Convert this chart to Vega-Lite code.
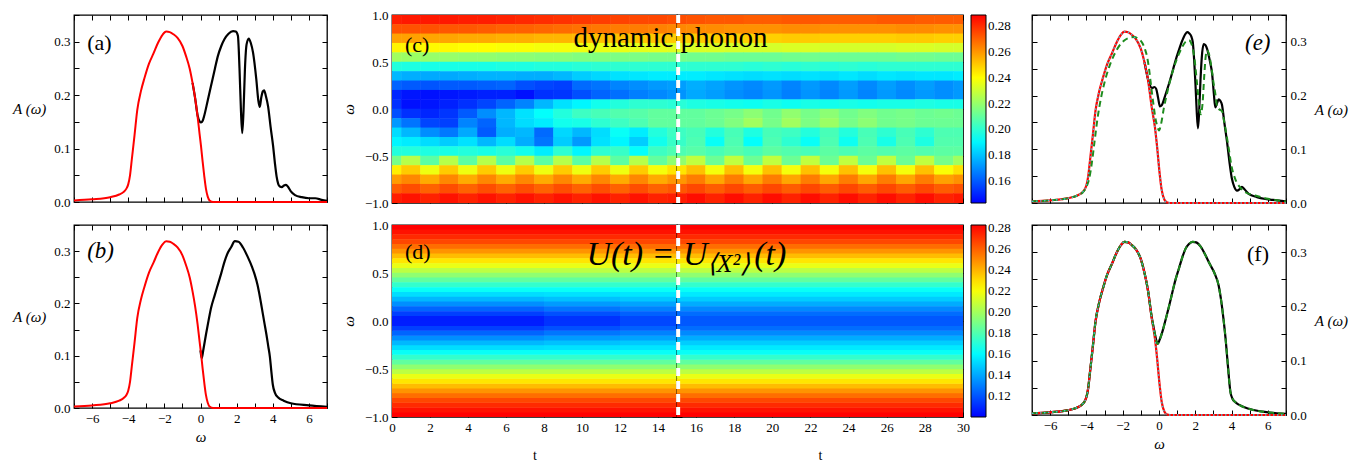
{
"$schema": "https://vega.github.io/schema/vega-lite/v6.json",
"autosize": {"type": "none"},
"padding": {"left": 74, "top": 15, "right": 1291, "bottom": 449},
"config": {
  "view": {"stroke": "black", "strokeWidth": 1.3},
  "font": "Liberation Serif",
  "axis": {"domain": false, "grid": false, "tickColor": "black", "tickSize": 5, "tickWidth": 1, "labelFont": "Liberation Serif", "labelFontSize": 13, "labelColor": "black", "labelPadding": 4, "labelOverlap": false, "labelFlush": false, "titleFont": "Liberation Serif", "titleFontWeight": "normal", "titleFontSize": 15, "titleColor": "black", "zindex": 1},
  "legend": {"labelFont": "Liberation Serif", "labelFontSize": 13, "labelColor": "black", "gradientStrokeColor": "black", "gradientStrokeWidth": 1, "labelOverlap": false, "labelOffset": 5},
  "text": {"font": "Liberation Serif", "color": "black"}
},
"datasets": {
  "occ": [{"w":-7,"A":0.003},{"w":-6,"A":0.005},{"w":-5,"A":0.009},{"w":-4.5,"A":0.014},{"w":-4.25,"A":0.019},{"w":-4.1,"A":0.025},{"w":-4,"A":0.033},{"w":-3.9,"A":0.05},{"w":-3.8,"A":0.08},{"w":-3.65,"A":0.125},{"w":-3.5,"A":0.172},{"w":-3.3,"A":0.207},{"w":-3.1,"A":0.232},{"w":-2.85,"A":0.259},{"w":-2.6,"A":0.278},{"w":-2.35,"A":0.298},{"w":-2.1,"A":0.313},{"w":-1.9,"A":0.319},{"w":-1.7,"A":0.318},{"w":-1.5,"A":0.314},{"w":-1.27,"A":0.307},{"w":-1,"A":0.292},{"w":-0.8,"A":0.273},{"w":-0.6,"A":0.25},{"w":-0.44,"A":0.223},{"w":-0.3,"A":0.195},{"w":-0.16,"A":0.16},{"w":-0.05,"A":0.127},{"w":0.03,"A":0.104},{"w":0.12,"A":0.075},{"w":0.21,"A":0.048},{"w":0.3,"A":0.025},{"w":0.4,"A":0.01},{"w":0.5,"A":0.003},{"w":0.7,"A":0},{"w":7,"A":0}],
  "full_a": [{"w":-0.44,"A":0.223},{"w":-0.3,"A":0.195},{"w":-0.16,"A":0.162},{"w":-0.05,"A":0.151},{"w":0.03,"A":0.149},{"w":0.12,"A":0.152},{"w":0.21,"A":0.162},{"w":0.4,"A":0.19},{"w":0.58,"A":0.217},{"w":0.8,"A":0.25},{"w":0.96,"A":0.273},{"w":1.15,"A":0.292},{"w":1.33,"A":0.305},{"w":1.55,"A":0.315},{"w":1.8,"A":0.32},{"w":1.95,"A":0.319},{"w":2.07,"A":0.311},{"w":2.16,"A":0.248},{"w":2.24,"A":0.17},{"w":2.31,"A":0.129},{"w":2.38,"A":0.17},{"w":2.46,"A":0.25},{"w":2.55,"A":0.295},{"w":2.67,"A":0.306},{"w":2.78,"A":0.298},{"w":2.91,"A":0.279},{"w":3.09,"A":0.229},{"w":3.2,"A":0.19},{"w":3.28,"A":0.178},{"w":3.36,"A":0.195},{"w":3.45,"A":0.207},{"w":3.52,"A":0.209},{"w":3.62,"A":0.198},{"w":3.74,"A":0.179},{"w":3.88,"A":0.14},{"w":4.02,"A":0.104},{"w":4.12,"A":0.072},{"w":4.21,"A":0.048},{"w":4.3,"A":0.034},{"w":4.39,"A":0.029},{"w":4.5,"A":0.028},{"w":4.62,"A":0.031},{"w":4.73,"A":0.032},{"w":4.85,"A":0.028},{"w":5,"A":0.02},{"w":5.23,"A":0.013},{"w":5.6,"A":0.009},{"w":6,"A":0.007},{"w":6.35,"A":0.007},{"w":6.7,"A":0.004},{"w":7,"A":0.002}],
  "full_b": [{"w":0,"A":0.11},{"w":0.07,"A":0.095},{"w":0.15,"A":0.11},{"w":0.31,"A":0.142},{"w":0.45,"A":0.168},{"w":0.59,"A":0.192},{"w":0.78,"A":0.215},{"w":0.96,"A":0.236},{"w":1.15,"A":0.258},{"w":1.33,"A":0.28},{"w":1.5,"A":0.296},{"w":1.7,"A":0.308},{"w":1.9,"A":0.319},{"w":2.1,"A":0.318},{"w":2.35,"A":0.307},{"w":2.6,"A":0.29},{"w":2.85,"A":0.27},{"w":3,"A":0.255},{"w":3.15,"A":0.236},{"w":3.3,"A":0.21},{"w":3.45,"A":0.18},{"w":3.55,"A":0.16},{"w":3.65,"A":0.14},{"w":3.75,"A":0.118},{"w":3.84,"A":0.098},{"w":3.92,"A":0.07},{"w":4,"A":0.045},{"w":4.12,"A":0.029},{"w":4.3,"A":0.02},{"w":4.6,"A":0.014},{"w":5,"A":0.009},{"w":6,"A":0.005},{"w":7,"A":0.002}],
  "occ2": [{"w":-7,"A":0.003},{"w":-6,"A":0.005},{"w":-5,"A":0.009},{"w":-4.5,"A":0.014},{"w":-4.25,"A":0.019},{"w":-4.1,"A":0.025},{"w":-4,"A":0.033},{"w":-3.9,"A":0.05},{"w":-3.8,"A":0.08},{"w":-3.65,"A":0.125},{"w":-3.5,"A":0.172},{"w":-3.3,"A":0.207},{"w":-3.1,"A":0.232},{"w":-2.85,"A":0.259},{"w":-2.6,"A":0.278},{"w":-2.35,"A":0.298},{"w":-2.1,"A":0.313},{"w":-1.9,"A":0.319},{"w":-1.7,"A":0.318},{"w":-1.5,"A":0.313},{"w":-1.27,"A":0.305},{"w":-1,"A":0.287},{"w":-0.8,"A":0.262},{"w":-0.6,"A":0.228},{"w":-0.4,"A":0.178},{"w":-0.22,"A":0.14},{"w":-0.1,"A":0.103},{"w":0.02,"A":0.06},{"w":0.15,"A":0.024},{"w":0.3,"A":0.006},{"w":0.45,"A":0.001},{"w":0.6,"A":0},{"w":7,"A":0}],
  "full_e": [{"w":-0.8,"A":0.262},{"w":-0.7,"A":0.245},{"w":-0.6,"A":0.23},{"w":-0.5,"A":0.219},{"w":-0.38,"A":0.214},{"w":-0.25,"A":0.216},{"w":-0.15,"A":0.212},{"w":-0.05,"A":0.196},{"w":0.05,"A":0.18},{"w":0.15,"A":0.182},{"w":0.36,"A":0.202},{"w":0.55,"A":0.222},{"w":0.73,"A":0.243},{"w":0.9,"A":0.264},{"w":1.09,"A":0.284},{"w":1.28,"A":0.302},{"w":1.46,"A":0.315},{"w":1.56,"A":0.318},{"w":1.66,"A":0.316},{"w":1.78,"A":0.31},{"w":1.86,"A":0.3},{"w":1.94,"A":0.265},{"w":2.01,"A":0.221},{"w":2.08,"A":0.17},{"w":2.15,"A":0.139},{"w":2.22,"A":0.175},{"w":2.29,"A":0.231},{"w":2.38,"A":0.28},{"w":2.47,"A":0.296},{"w":2.56,"A":0.294},{"w":2.65,"A":0.287},{"w":2.8,"A":0.265},{"w":2.93,"A":0.24},{"w":3.02,"A":0.205},{"w":3.1,"A":0.178},{"w":3.2,"A":0.186},{"w":3.29,"A":0.193},{"w":3.38,"A":0.19},{"w":3.47,"A":0.183},{"w":3.6,"A":0.15},{"w":3.75,"A":0.114},{"w":3.9,"A":0.072},{"w":4.02,"A":0.045},{"w":4.15,"A":0.03},{"w":4.3,"A":0.023},{"w":4.45,"A":0.026},{"w":4.57,"A":0.03},{"w":4.7,"A":0.026},{"w":4.94,"A":0.017},{"w":5.4,"A":0.011},{"w":5.86,"A":0.0075},{"w":6.5,"A":0.005},{"w":7,"A":0.003}],
  "green_e": [{"w":-7,"A":0.003},{"w":-6,"A":0.005},{"w":-5,"A":0.009},{"w":-4.5,"A":0.014},{"w":-4.2,"A":0.02},{"w":-4,"A":0.03},{"w":-3.85,"A":0.045},{"w":-3.7,"A":0.075},{"w":-3.55,"A":0.115},{"w":-3.4,"A":0.155},{"w":-3.2,"A":0.195},{"w":-3,"A":0.225},{"w":-2.75,"A":0.253},{"w":-2.5,"A":0.274},{"w":-2.2,"A":0.292},{"w":-1.9,"A":0.303},{"w":-1.6,"A":0.308},{"w":-1.37,"A":0.309},{"w":-1.15,"A":0.306},{"w":-0.92,"A":0.298},{"w":-0.78,"A":0.287},{"w":-0.65,"A":0.271},{"w":-0.55,"A":0.25},{"w":-0.46,"A":0.225},{"w":-0.37,"A":0.2},{"w":-0.28,"A":0.177},{"w":-0.2,"A":0.158},{"w":-0.12,"A":0.146},{"w":-0.05,"A":0.138},{"w":0,"A":0.135},{"w":0.1,"A":0.145},{"w":0.27,"A":0.177},{"w":0.54,"A":0.218},{"w":0.8,"A":0.25},{"w":1.09,"A":0.277},{"w":1.3,"A":0.292},{"w":1.46,"A":0.3},{"w":1.65,"A":0.303},{"w":1.8,"A":0.295},{"w":1.95,"A":0.27},{"w":2.1,"A":0.221},{"w":2.22,"A":0.18},{"w":2.3,"A":0.165},{"w":2.4,"A":0.185},{"w":2.5,"A":0.24},{"w":2.58,"A":0.275},{"w":2.65,"A":0.284},{"w":2.75,"A":0.278},{"w":2.9,"A":0.25},{"w":3,"A":0.225},{"w":3.11,"A":0.202},{"w":3.2,"A":0.18},{"w":3.3,"A":0.175},{"w":3.47,"A":0.171},{"w":3.6,"A":0.15},{"w":3.84,"A":0.102},{"w":4,"A":0.068},{"w":4.2,"A":0.045},{"w":4.5,"A":0.028},{"w":4.76,"A":0.02},{"w":5.3,"A":0.014},{"w":6,"A":0.008},{"w":6.5,"A":0.005},{"w":7,"A":0.003}],
  "full_f": [{"w":-7,"A":0.003},{"w":-6,"A":0.005},{"w":-5,"A":0.009},{"w":-4.5,"A":0.014},{"w":-4.25,"A":0.019},{"w":-4.1,"A":0.025},{"w":-4,"A":0.033},{"w":-3.9,"A":0.05},{"w":-3.8,"A":0.08},{"w":-3.65,"A":0.125},{"w":-3.5,"A":0.172},{"w":-3.3,"A":0.207},{"w":-3.1,"A":0.232},{"w":-2.85,"A":0.259},{"w":-2.6,"A":0.278},{"w":-2.35,"A":0.298},{"w":-2.1,"A":0.313},{"w":-1.9,"A":0.319},{"w":-1.7,"A":0.318},{"w":-1.5,"A":0.313},{"w":-1.27,"A":0.305},{"w":-1,"A":0.287},{"w":-0.8,"A":0.262},{"w":-0.6,"A":0.228},{"w":-0.4,"A":0.18},{"w":-0.3,"A":0.162},{"w":-0.2,"A":0.145},{"w":-0.08,"A":0.131},{"w":0.05,"A":0.14},{"w":0.2,"A":0.155},{"w":0.36,"A":0.175},{"w":0.55,"A":0.2},{"w":0.73,"A":0.225},{"w":0.9,"A":0.248},{"w":1.09,"A":0.269},{"w":1.28,"A":0.29},{"w":1.46,"A":0.306},{"w":1.65,"A":0.315},{"w":1.85,"A":0.319},{"w":2.05,"A":0.318},{"w":2.3,"A":0.31},{"w":2.55,"A":0.295},{"w":2.8,"A":0.278},{"w":3.05,"A":0.262},{"w":3.29,"A":0.238},{"w":3.45,"A":0.205},{"w":3.55,"A":0.178},{"w":3.66,"A":0.144},{"w":3.8,"A":0.09},{"w":3.93,"A":0.044},{"w":4.05,"A":0.03},{"w":4.2,"A":0.024},{"w":4.4,"A":0.019},{"w":5,"A":0.011},{"w":6,"A":0.005},{"w":7,"A":0.002}],
  "hd": [
    {"t0":0,"t1":30,"w":0.975,"v":0.283},{"t0":0,"t1":30,"w":0.925,"v":0.279},{"t0":0,"t1":30,"w":0.875,"v":0.273},{"t0":0,"t1":30,"w":0.825,"v":0.266},{"t0":0,"t1":30,"w":0.775,"v":0.257},{"t0":0,"t1":30,"w":0.725,"v":0.248},{"t0":0,"t1":30,"w":0.675,"v":0.238},{"t0":0,"t1":30,"w":0.625,"v":0.228},{"t0":0,"t1":30,"w":0.575,"v":0.217},{"t0":0,"t1":30,"w":0.525,"v":0.206},{"t0":0,"t1":30,"w":0.475,"v":0.195},{"t0":0,"t1":30,"w":0.425,"v":0.184},{"t0":0,"t1":30,"w":0.375,"v":0.173},{"t0":0,"t1":30,"w":0.325,"v":0.163},
    {"t0":0,"t1":30,"w":-0.975,"v":0.283},{"t0":0,"t1":30,"w":-0.925,"v":0.279},{"t0":0,"t1":30,"w":-0.875,"v":0.273},{"t0":0,"t1":30,"w":-0.825,"v":0.266},{"t0":0,"t1":30,"w":-0.775,"v":0.257},{"t0":0,"t1":30,"w":-0.725,"v":0.248},{"t0":0,"t1":30,"w":-0.675,"v":0.238},{"t0":0,"t1":30,"w":-0.625,"v":0.228},{"t0":0,"t1":30,"w":-0.575,"v":0.217},{"t0":0,"t1":30,"w":-0.525,"v":0.206},{"t0":0,"t1":30,"w":-0.475,"v":0.195},{"t0":0,"t1":30,"w":-0.425,"v":0.184},{"t0":0,"t1":30,"w":-0.375,"v":0.173},{"t0":0,"t1":30,"w":-0.325,"v":0.163},
    {"t0":0,"t1":8,"w":0.275,"v":0.153},{"t0":0,"t1":8,"w":0.225,"v":0.144},{"t0":0,"t1":8,"w":0.175,"v":0.134},{"t0":0,"t1":8,"w":0.125,"v":0.124},{"t0":0,"t1":8,"w":0.075,"v":0.115},{"t0":0,"t1":8,"w":0.025,"v":0.107},
    {"t0":0,"t1":8,"w":-0.275,"v":0.153},{"t0":0,"t1":8,"w":-0.225,"v":0.144},{"t0":0,"t1":8,"w":-0.175,"v":0.134},{"t0":0,"t1":8,"w":-0.125,"v":0.124},{"t0":0,"t1":8,"w":-0.075,"v":0.115},{"t0":0,"t1":8,"w":-0.025,"v":0.107},
    {"t0":8,"t1":12,"w":0.275,"v":0.154},{"t0":8,"t1":12,"w":0.225,"v":0.146},{"t0":8,"t1":12,"w":0.175,"v":0.137},{"t0":8,"t1":12,"w":0.125,"v":0.128},{"t0":8,"t1":12,"w":0.075,"v":0.119},{"t0":8,"t1":12,"w":0.025,"v":0.112},
    {"t0":8,"t1":12,"w":-0.275,"v":0.154},{"t0":8,"t1":12,"w":-0.225,"v":0.146},{"t0":8,"t1":12,"w":-0.175,"v":0.137},{"t0":8,"t1":12,"w":-0.125,"v":0.128},{"t0":8,"t1":12,"w":-0.075,"v":0.119},{"t0":8,"t1":12,"w":-0.025,"v":0.112},
    {"t0":12,"t1":15,"w":0.275,"v":0.155},{"t0":12,"t1":15,"w":0.225,"v":0.148},{"t0":12,"t1":15,"w":0.175,"v":0.139},{"t0":12,"t1":15,"w":0.125,"v":0.131},{"t0":12,"t1":15,"w":0.075,"v":0.123},{"t0":12,"t1":15,"w":0.025,"v":0.117},
    {"t0":12,"t1":15,"w":-0.275,"v":0.155},{"t0":12,"t1":15,"w":-0.225,"v":0.148},{"t0":12,"t1":15,"w":-0.175,"v":0.139},{"t0":12,"t1":15,"w":-0.125,"v":0.131},{"t0":12,"t1":15,"w":-0.075,"v":0.123},{"t0":12,"t1":15,"w":-0.025,"v":0.117},
    {"t0":15,"t1":30,"w":0.275,"v":0.156},{"t0":15,"t1":30,"w":0.225,"v":0.149},{"t0":15,"t1":30,"w":0.175,"v":0.141},{"t0":15,"t1":30,"w":0.125,"v":0.133},{"t0":15,"t1":30,"w":0.075,"v":0.126},{"t0":15,"t1":30,"w":0.025,"v":0.121},
    {"t0":15,"t1":30,"w":-0.275,"v":0.156},{"t0":15,"t1":30,"w":-0.225,"v":0.149},{"t0":15,"t1":30,"w":-0.175,"v":0.141},{"t0":15,"t1":30,"w":-0.125,"v":0.133},{"t0":15,"t1":30,"w":-0.075,"v":0.126},{"t0":15,"t1":30,"w":-0.025,"v":0.121}
  ],
  "hc": [
{"t":0,"w":0.95,"v":0.283},{"t":1,"w":0.95,"v":0.284},{"t":2,"w":0.95,"v":0.284},{"t":3,"w":0.95,"v":0.284},{"t":4,"w":0.95,"v":0.283},{"t":5,"w":0.95,"v":0.283},{"t":6,"w":0.95,"v":0.282},{"t":7,"w":0.95,"v":0.281},{"t":8,"w":0.95,"v":0.28},{"t":9,"w":0.95,"v":0.279},{"t":10,"w":0.95,"v":0.278},{"t":11,"w":0.95,"v":0.277},{"t":12,"w":0.95,"v":0.276},{"t":13,"w":0.95,"v":0.275},{"t":14,"w":0.95,"v":0.275},{"t":15,"w":0.95,"v":0.274},{"t":16,"w":0.95,"v":0.273},{"t":17,"w":0.95,"v":0.272},{"t":18,"w":0.95,"v":0.272},{"t":19,"w":0.95,"v":0.271},{"t":20,"w":0.95,"v":0.271},{"t":21,"w":0.95,"v":0.272},{"t":22,"w":0.95,"v":0.272},{"t":23,"w":0.95,"v":0.271},{"t":24,"w":0.95,"v":0.271},{"t":25,"w":0.95,"v":0.271},{"t":26,"w":0.95,"v":0.272},{"t":27,"w":0.95,"v":0.272},{"t":28,"w":0.95,"v":0.271},{"t":29,"w":0.95,"v":0.271},{"t":30,"w":0.95,"v":0.271},
{"t":0,"w":0.85,"v":0.273},{"t":1,"w":0.85,"v":0.273},{"t":2,"w":0.85,"v":0.273},{"t":3,"w":0.85,"v":0.272},{"t":4,"w":0.85,"v":0.272},{"t":5,"w":0.85,"v":0.271},{"t":6,"w":0.85,"v":0.27},{"t":7,"w":0.85,"v":0.27},{"t":8,"w":0.85,"v":0.269},{"t":9,"w":0.85,"v":0.268},{"t":10,"w":0.85,"v":0.267},{"t":11,"w":0.85,"v":0.266},{"t":12,"w":0.85,"v":0.265},{"t":13,"w":0.85,"v":0.265},{"t":14,"w":0.85,"v":0.264},{"t":15,"w":0.85,"v":0.263},{"t":16,"w":0.85,"v":0.262},{"t":17,"w":0.85,"v":0.262},{"t":18,"w":0.85,"v":0.261},{"t":19,"w":0.85,"v":0.261},{"t":20,"w":0.85,"v":0.261},{"t":21,"w":0.85,"v":0.262},{"t":22,"w":0.85,"v":0.262},{"t":23,"w":0.85,"v":0.261},{"t":24,"w":0.85,"v":0.261},{"t":25,"w":0.85,"v":0.261},{"t":26,"w":0.85,"v":0.261},{"t":27,"w":0.85,"v":0.262},{"t":28,"w":0.85,"v":0.262},{"t":29,"w":0.85,"v":0.261},{"t":30,"w":0.85,"v":0.261},
{"t":0,"w":0.75,"v":0.258},{"t":1,"w":0.75,"v":0.258},{"t":2,"w":0.75,"v":0.257},{"t":3,"w":0.75,"v":0.257},{"t":4,"w":0.75,"v":0.256},{"t":5,"w":0.75,"v":0.256},{"t":6,"w":0.75,"v":0.255},{"t":7,"w":0.75,"v":0.255},{"t":8,"w":0.75,"v":0.254},{"t":9,"w":0.75,"v":0.254},{"t":10,"w":0.75,"v":0.253},{"t":11,"w":0.75,"v":0.252},{"t":12,"w":0.75,"v":0.252},{"t":13,"w":0.75,"v":0.251},{"t":14,"w":0.75,"v":0.251},{"t":15,"w":0.75,"v":0.25},{"t":16,"w":0.75,"v":0.25},{"t":17,"w":0.75,"v":0.249},{"t":18,"w":0.75,"v":0.249},{"t":19,"w":0.75,"v":0.249},{"t":20,"w":0.75,"v":0.249},{"t":21,"w":0.75,"v":0.25},{"t":22,"w":0.75,"v":0.25},{"t":23,"w":0.75,"v":0.249},{"t":24,"w":0.75,"v":0.249},{"t":25,"w":0.75,"v":0.249},{"t":26,"w":0.75,"v":0.249},{"t":27,"w":0.75,"v":0.25},{"t":28,"w":0.75,"v":0.25},{"t":29,"w":0.75,"v":0.249},{"t":30,"w":0.75,"v":0.249},
{"t":0,"w":0.65,"v":0.242},{"t":1,"w":0.65,"v":0.242},{"t":2,"w":0.65,"v":0.241},{"t":3,"w":0.65,"v":0.241},{"t":4,"w":0.65,"v":0.24},{"t":5,"w":0.65,"v":0.24},{"t":6,"w":0.65,"v":0.239},{"t":7,"w":0.65,"v":0.239},{"t":8,"w":0.65,"v":0.238},{"t":9,"w":0.65,"v":0.238},{"t":10,"w":0.65,"v":0.237},{"t":11,"w":0.65,"v":0.236},{"t":12,"w":0.65,"v":0.236},{"t":13,"w":0.65,"v":0.235},{"t":14,"w":0.65,"v":0.235},{"t":15,"w":0.65,"v":0.234},{"t":16,"w":0.65,"v":0.233},{"t":17,"w":0.65,"v":0.233},{"t":18,"w":0.65,"v":0.232},{"t":19,"w":0.65,"v":0.232},{"t":20,"w":0.65,"v":0.232},{"t":21,"w":0.65,"v":0.233},{"t":22,"w":0.65,"v":0.233},{"t":23,"w":0.65,"v":0.232},{"t":24,"w":0.65,"v":0.232},{"t":25,"w":0.65,"v":0.232},{"t":26,"w":0.65,"v":0.232},{"t":27,"w":0.65,"v":0.233},{"t":28,"w":0.65,"v":0.233},{"t":29,"w":0.65,"v":0.232},{"t":30,"w":0.65,"v":0.232},
{"t":0,"w":0.55,"v":0.222},{"t":1,"w":0.55,"v":0.221},{"t":2,"w":0.55,"v":0.22},{"t":3,"w":0.55,"v":0.22},{"t":4,"w":0.55,"v":0.219},{"t":5,"w":0.55,"v":0.219},{"t":6,"w":0.55,"v":0.218},{"t":7,"w":0.55,"v":0.218},{"t":8,"w":0.55,"v":0.217},{"t":9,"w":0.55,"v":0.217},{"t":10,"w":0.55,"v":0.216},{"t":11,"w":0.55,"v":0.216},{"t":12,"w":0.55,"v":0.215},{"t":13,"w":0.55,"v":0.215},{"t":14,"w":0.55,"v":0.214},{"t":15,"w":0.55,"v":0.214},{"t":16,"w":0.55,"v":0.213},{"t":17,"w":0.55,"v":0.213},{"t":18,"w":0.55,"v":0.212},{"t":19,"w":0.55,"v":0.212},{"t":20,"w":0.55,"v":0.212},{"t":21,"w":0.55,"v":0.213},{"t":22,"w":0.55,"v":0.213},{"t":23,"w":0.55,"v":0.212},{"t":24,"w":0.55,"v":0.212},{"t":25,"w":0.55,"v":0.212},{"t":26,"w":0.55,"v":0.212},{"t":27,"w":0.55,"v":0.213},{"t":28,"w":0.55,"v":0.213},{"t":29,"w":0.55,"v":0.212},{"t":30,"w":0.55,"v":0.212},
{"t":0,"w":0.45,"v":0.198},{"t":1,"w":0.45,"v":0.197},{"t":2,"w":0.45,"v":0.196},{"t":3,"w":0.45,"v":0.196},{"t":4,"w":0.45,"v":0.196},{"t":5,"w":0.45,"v":0.196},{"t":6,"w":0.45,"v":0.197},{"t":7,"w":0.45,"v":0.197},{"t":8,"w":0.45,"v":0.198},{"t":9,"w":0.45,"v":0.198},{"t":10,"w":0.45,"v":0.199},{"t":11,"w":0.45,"v":0.2},{"t":12,"w":0.45,"v":0.2},{"t":13,"w":0.45,"v":0.2},{"t":14,"w":0.45,"v":0.2},{"t":15,"w":0.45,"v":0.2},{"t":16,"w":0.45,"v":0.2},{"t":17,"w":0.45,"v":0.2},{"t":18,"w":0.45,"v":0.2},{"t":19,"w":0.45,"v":0.199},{"t":20,"w":0.45,"v":0.2},{"t":21,"w":0.45,"v":0.199},{"t":22,"w":0.45,"v":0.2},{"t":23,"w":0.45,"v":0.199},{"t":24,"w":0.45,"v":0.2},{"t":25,"w":0.45,"v":0.199},{"t":26,"w":0.45,"v":0.2},{"t":27,"w":0.45,"v":0.2},{"t":28,"w":0.45,"v":0.2},{"t":29,"w":0.45,"v":0.2},{"t":30,"w":0.45,"v":0.2},
{"t":0,"w":0.35,"v":0.178},{"t":1,"w":0.35,"v":0.176},{"t":2,"w":0.35,"v":0.175},{"t":3,"w":0.35,"v":0.175},{"t":4,"w":0.35,"v":0.176},{"t":5,"w":0.35,"v":0.177},{"t":6,"w":0.35,"v":0.177},{"t":7,"w":0.35,"v":0.176},{"t":8,"w":0.35,"v":0.176},{"t":9,"w":0.35,"v":0.178},{"t":10,"w":0.35,"v":0.182},{"t":11,"w":0.35,"v":0.184},{"t":12,"w":0.35,"v":0.186},{"t":13,"w":0.35,"v":0.187},{"t":14,"w":0.35,"v":0.188},{"t":15,"w":0.35,"v":0.188},{"t":16,"w":0.35,"v":0.188},{"t":17,"w":0.35,"v":0.187},{"t":18,"w":0.35,"v":0.186},{"t":19,"w":0.35,"v":0.185},{"t":20,"w":0.35,"v":0.186},{"t":21,"w":0.35,"v":0.185},{"t":22,"w":0.35,"v":0.186},{"t":23,"w":0.35,"v":0.185},{"t":24,"w":0.35,"v":0.187},{"t":25,"w":0.35,"v":0.185},{"t":26,"w":0.35,"v":0.187},{"t":27,"w":0.35,"v":0.186},{"t":28,"w":0.35,"v":0.187},{"t":29,"w":0.35,"v":0.187},{"t":30,"w":0.35,"v":0.188},
{"t":0,"w":0.25,"v":0.162},{"t":1,"w":0.25,"v":0.16},{"t":2,"w":0.25,"v":0.159},{"t":3,"w":0.25,"v":0.16},{"t":4,"w":0.25,"v":0.16},{"t":5,"w":0.25,"v":0.161},{"t":6,"w":0.25,"v":0.162},{"t":7,"w":0.25,"v":0.158},{"t":8,"w":0.25,"v":0.156},{"t":9,"w":0.25,"v":0.155},{"t":10,"w":0.25,"v":0.163},{"t":11,"w":0.25,"v":0.165},{"t":12,"w":0.25,"v":0.168},{"t":13,"w":0.25,"v":0.17},{"t":14,"w":0.25,"v":0.172},{"t":15,"w":0.25,"v":0.173},{"t":16,"w":0.25,"v":0.176},{"t":17,"w":0.25,"v":0.174},{"t":18,"w":0.25,"v":0.171},{"t":19,"w":0.25,"v":0.169},{"t":20,"w":0.25,"v":0.172},{"t":21,"w":0.25,"v":0.168},{"t":22,"w":0.25,"v":0.172},{"t":23,"w":0.25,"v":0.169},{"t":24,"w":0.25,"v":0.173},{"t":25,"w":0.25,"v":0.169},{"t":26,"w":0.25,"v":0.173},{"t":27,"w":0.25,"v":0.17},{"t":28,"w":0.25,"v":0.173},{"t":29,"w":0.25,"v":0.17},{"t":30,"w":0.25,"v":0.172},
{"t":0,"w":0.15,"v":0.15},{"t":1,"w":0.15,"v":0.147},{"t":2,"w":0.15,"v":0.146},{"t":3,"w":0.15,"v":0.147},{"t":4,"w":0.15,"v":0.148},{"t":5,"w":0.15,"v":0.149},{"t":6,"w":0.15,"v":0.149},{"t":7,"w":0.15,"v":0.146},{"t":8,"w":0.15,"v":0.152},{"t":9,"w":0.15,"v":0.153},{"t":10,"w":0.15,"v":0.158},{"t":11,"w":0.15,"v":0.162},{"t":12,"w":0.15,"v":0.164},{"t":13,"w":0.15,"v":0.167},{"t":14,"w":0.15,"v":0.169},{"t":15,"w":0.15,"v":0.171},{"t":16,"w":0.15,"v":0.175},{"t":17,"w":0.15,"v":0.173},{"t":18,"w":0.15,"v":0.17},{"t":19,"w":0.15,"v":0.168},{"t":20,"w":0.15,"v":0.171},{"t":21,"w":0.15,"v":0.167},{"t":22,"w":0.15,"v":0.171},{"t":23,"w":0.15,"v":0.168},{"t":24,"w":0.15,"v":0.172},{"t":25,"w":0.15,"v":0.168},{"t":26,"w":0.15,"v":0.172},{"t":27,"w":0.15,"v":0.169},{"t":28,"w":0.15,"v":0.172},{"t":29,"w":0.15,"v":0.17},{"t":30,"w":0.15,"v":0.172},
{"t":0,"w":0.05,"v":0.152},{"t":1,"w":0.05,"v":0.146},{"t":2,"w":0.05,"v":0.147},{"t":3,"w":0.05,"v":0.149},{"t":4,"w":0.05,"v":0.152},{"t":5,"w":0.05,"v":0.156},{"t":6,"w":0.05,"v":0.162},{"t":7,"w":0.05,"v":0.168},{"t":8,"w":0.05,"v":0.178},{"t":9,"w":0.05,"v":0.186},{"t":10,"w":0.05,"v":0.19},{"t":11,"w":0.05,"v":0.195},{"t":12,"w":0.05,"v":0.198},{"t":13,"w":0.05,"v":0.2},{"t":14,"w":0.05,"v":0.2},{"t":15,"w":0.05,"v":0.199},{"t":16,"w":0.05,"v":0.197},{"t":17,"w":0.05,"v":0.196},{"t":18,"w":0.05,"v":0.195},{"t":19,"w":0.05,"v":0.194},{"t":20,"w":0.05,"v":0.196},{"t":21,"w":0.05,"v":0.194},{"t":22,"w":0.05,"v":0.196},{"t":23,"w":0.05,"v":0.195},{"t":24,"w":0.05,"v":0.196},{"t":25,"w":0.05,"v":0.195},{"t":26,"w":0.05,"v":0.196},{"t":27,"w":0.05,"v":0.196},{"t":28,"w":0.05,"v":0.197},{"t":29,"w":0.05,"v":0.196},{"t":30,"w":0.05,"v":0.196},
{"t":0,"w":-0.05,"v":0.158},{"t":1,"w":-0.05,"v":0.152},{"t":2,"w":-0.05,"v":0.15},{"t":3,"w":-0.05,"v":0.153},{"t":4,"w":-0.05,"v":0.16},{"t":5,"w":-0.05,"v":0.17},{"t":6,"w":-0.05,"v":0.178},{"t":7,"w":-0.05,"v":0.186},{"t":8,"w":-0.05,"v":0.192},{"t":9,"w":-0.05,"v":0.198},{"t":10,"w":-0.05,"v":0.203},{"t":11,"w":-0.05,"v":0.205},{"t":12,"w":-0.05,"v":0.207},{"t":13,"w":-0.05,"v":0.208},{"t":14,"w":-0.05,"v":0.21},{"t":15,"w":-0.05,"v":0.21},{"t":16,"w":-0.05,"v":0.21},{"t":17,"w":-0.05,"v":0.212},{"t":18,"w":-0.05,"v":0.214},{"t":19,"w":-0.05,"v":0.218},{"t":20,"w":-0.05,"v":0.213},{"t":21,"w":-0.05,"v":0.219},{"t":22,"w":-0.05,"v":0.214},{"t":23,"w":-0.05,"v":0.218},{"t":24,"w":-0.05,"v":0.213},{"t":25,"w":-0.05,"v":0.216},{"t":26,"w":-0.05,"v":0.213},{"t":27,"w":-0.05,"v":0.214},{"t":28,"w":-0.05,"v":0.212},{"t":29,"w":-0.05,"v":0.213},{"t":30,"w":-0.05,"v":0.212},
{"t":0,"w":-0.15,"v":0.172},{"t":1,"w":-0.15,"v":0.165},{"t":2,"w":-0.15,"v":0.156},{"t":3,"w":-0.15,"v":0.155},{"t":4,"w":-0.15,"v":0.168},{"t":5,"w":-0.15,"v":0.162},{"t":6,"w":-0.15,"v":0.178},{"t":7,"w":-0.15,"v":0.185},{"t":8,"w":-0.15,"v":0.188},{"t":9,"w":-0.15,"v":0.195},{"t":10,"w":-0.15,"v":0.196},{"t":11,"w":-0.15,"v":0.2},{"t":12,"w":-0.15,"v":0.203},{"t":13,"w":-0.15,"v":0.206},{"t":14,"w":-0.15,"v":0.21},{"t":15,"w":-0.15,"v":0.21},{"t":16,"w":-0.15,"v":0.21},{"t":17,"w":-0.15,"v":0.212},{"t":18,"w":-0.15,"v":0.216},{"t":19,"w":-0.15,"v":0.222},{"t":20,"w":-0.15,"v":0.214},{"t":21,"w":-0.15,"v":0.222},{"t":22,"w":-0.15,"v":0.215},{"t":23,"w":-0.15,"v":0.221},{"t":24,"w":-0.15,"v":0.214},{"t":25,"w":-0.15,"v":0.218},{"t":26,"w":-0.15,"v":0.213},{"t":27,"w":-0.15,"v":0.214},{"t":28,"w":-0.15,"v":0.212},{"t":29,"w":-0.15,"v":0.212},{"t":30,"w":-0.15,"v":0.212},
{"t":0,"w":-0.25,"v":0.185},{"t":1,"w":-0.25,"v":0.178},{"t":2,"w":-0.25,"v":0.17},{"t":3,"w":-0.25,"v":0.166},{"t":4,"w":-0.25,"v":0.175},{"t":5,"w":-0.25,"v":0.16},{"t":6,"w":-0.25,"v":0.176},{"t":7,"w":-0.25,"v":0.178},{"t":8,"w":-0.25,"v":0.163},{"t":9,"w":-0.25,"v":0.184},{"t":10,"w":-0.25,"v":0.178},{"t":11,"w":-0.25,"v":0.185},{"t":12,"w":-0.25,"v":0.193},{"t":13,"w":-0.25,"v":0.188},{"t":14,"w":-0.25,"v":0.198},{"t":15,"w":-0.25,"v":0.203},{"t":16,"w":-0.25,"v":0.205},{"t":17,"w":-0.25,"v":0.198},{"t":18,"w":-0.25,"v":0.205},{"t":19,"w":-0.25,"v":0.197},{"t":20,"w":-0.25,"v":0.205},{"t":21,"w":-0.25,"v":0.203},{"t":22,"w":-0.25,"v":0.198},{"t":23,"w":-0.25,"v":0.205},{"t":24,"w":-0.25,"v":0.198},{"t":25,"w":-0.25,"v":0.205},{"t":26,"w":-0.25,"v":0.2},{"t":27,"w":-0.25,"v":0.205},{"t":28,"w":-0.25,"v":0.2},{"t":29,"w":-0.25,"v":0.206},{"t":30,"w":-0.25,"v":0.206},
{"t":0,"w":-0.35,"v":0.19},{"t":1,"w":-0.35,"v":0.188},{"t":2,"w":-0.35,"v":0.185},{"t":3,"w":-0.35,"v":0.182},{"t":4,"w":-0.35,"v":0.186},{"t":5,"w":-0.35,"v":0.178},{"t":6,"w":-0.35,"v":0.185},{"t":7,"w":-0.35,"v":0.176},{"t":8,"w":-0.35,"v":0.165},{"t":9,"w":-0.35,"v":0.182},{"t":10,"w":-0.35,"v":0.172},{"t":11,"w":-0.35,"v":0.186},{"t":12,"w":-0.35,"v":0.19},{"t":13,"w":-0.35,"v":0.182},{"t":14,"w":-0.35,"v":0.195},{"t":15,"w":-0.35,"v":0.202},{"t":16,"w":-0.35,"v":0.206},{"t":17,"w":-0.35,"v":0.193},{"t":18,"w":-0.35,"v":0.206},{"t":19,"w":-0.35,"v":0.192},{"t":20,"w":-0.35,"v":0.206},{"t":21,"w":-0.35,"v":0.2},{"t":22,"w":-0.35,"v":0.193},{"t":23,"w":-0.35,"v":0.206},{"t":24,"w":-0.35,"v":0.194},{"t":25,"w":-0.35,"v":0.206},{"t":26,"w":-0.35,"v":0.196},{"t":27,"w":-0.35,"v":0.206},{"t":28,"w":-0.35,"v":0.197},{"t":29,"w":-0.35,"v":0.207},{"t":30,"w":-0.35,"v":0.207},
{"t":0,"w":-0.45,"v":0.198},{"t":1,"w":-0.45,"v":0.198},{"t":2,"w":-0.45,"v":0.197},{"t":3,"w":-0.45,"v":0.196},{"t":4,"w":-0.45,"v":0.198},{"t":5,"w":-0.45,"v":0.196},{"t":6,"w":-0.45,"v":0.199},{"t":7,"w":-0.45,"v":0.195},{"t":8,"w":-0.45,"v":0.188},{"t":9,"w":-0.45,"v":0.2},{"t":10,"w":-0.45,"v":0.19},{"t":11,"w":-0.45,"v":0.2},{"t":12,"w":-0.45,"v":0.202},{"t":13,"w":-0.45,"v":0.192},{"t":14,"w":-0.45,"v":0.203},{"t":15,"w":-0.45,"v":0.206},{"t":16,"w":-0.45,"v":0.208},{"t":17,"w":-0.45,"v":0.205},{"t":18,"w":-0.45,"v":0.208},{"t":19,"w":-0.45,"v":0.205},{"t":20,"w":-0.45,"v":0.209},{"t":21,"w":-0.45,"v":0.207},{"t":22,"w":-0.45,"v":0.205},{"t":23,"w":-0.45,"v":0.209},{"t":24,"w":-0.45,"v":0.206},{"t":25,"w":-0.45,"v":0.209},{"t":26,"w":-0.45,"v":0.207},{"t":27,"w":-0.45,"v":0.209},{"t":28,"w":-0.45,"v":0.207},{"t":29,"w":-0.45,"v":0.209},{"t":30,"w":-0.45,"v":0.209},
{"t":0,"w":-0.55,"v":0.214},{"t":1,"w":-0.55,"v":0.226},{"t":2,"w":-0.55,"v":0.209},{"t":3,"w":-0.55,"v":0.226},{"t":4,"w":-0.55,"v":0.209},{"t":5,"w":-0.55,"v":0.226},{"t":6,"w":-0.55,"v":0.209},{"t":7,"w":-0.55,"v":0.226},{"t":8,"w":-0.55,"v":0.209},{"t":9,"w":-0.55,"v":0.226},{"t":10,"w":-0.55,"v":0.209},{"t":11,"w":-0.55,"v":0.226},{"t":12,"w":-0.55,"v":0.209},{"t":13,"w":-0.55,"v":0.226},{"t":14,"w":-0.55,"v":0.21},{"t":15,"w":-0.55,"v":0.219},{"t":16,"w":-0.55,"v":0.228},{"t":17,"w":-0.55,"v":0.212},{"t":18,"w":-0.55,"v":0.228},{"t":19,"w":-0.55,"v":0.212},{"t":20,"w":-0.55,"v":0.228},{"t":21,"w":-0.55,"v":0.212},{"t":22,"w":-0.55,"v":0.228},{"t":23,"w":-0.55,"v":0.212},{"t":24,"w":-0.55,"v":0.228},{"t":25,"w":-0.55,"v":0.212},{"t":26,"w":-0.55,"v":0.228},{"t":27,"w":-0.55,"v":0.212},{"t":28,"w":-0.55,"v":0.228},{"t":29,"w":-0.55,"v":0.214},{"t":30,"w":-0.55,"v":0.222},
{"t":0,"w":-0.65,"v":0.243},{"t":1,"w":-0.65,"v":0.25},{"t":2,"w":-0.65,"v":0.237},{"t":3,"w":-0.65,"v":0.25},{"t":4,"w":-0.65,"v":0.237},{"t":5,"w":-0.65,"v":0.25},{"t":6,"w":-0.65,"v":0.237},{"t":7,"w":-0.65,"v":0.25},{"t":8,"w":-0.65,"v":0.237},{"t":9,"w":-0.65,"v":0.25},{"t":10,"w":-0.65,"v":0.237},{"t":11,"w":-0.65,"v":0.25},{"t":12,"w":-0.65,"v":0.237},{"t":13,"w":-0.65,"v":0.25},{"t":14,"w":-0.65,"v":0.238},{"t":15,"w":-0.65,"v":0.245},{"t":16,"w":-0.65,"v":0.252},{"t":17,"w":-0.65,"v":0.238},{"t":18,"w":-0.65,"v":0.252},{"t":19,"w":-0.65,"v":0.238},{"t":20,"w":-0.65,"v":0.252},{"t":21,"w":-0.65,"v":0.238},{"t":22,"w":-0.65,"v":0.252},{"t":23,"w":-0.65,"v":0.238},{"t":24,"w":-0.65,"v":0.252},{"t":25,"w":-0.65,"v":0.238},{"t":26,"w":-0.65,"v":0.252},{"t":27,"w":-0.65,"v":0.238},{"t":28,"w":-0.65,"v":0.252},{"t":29,"w":-0.65,"v":0.239},{"t":30,"w":-0.65,"v":0.246},
{"t":0,"w":-0.75,"v":0.259},{"t":1,"w":-0.75,"v":0.263},{"t":2,"w":-0.75,"v":0.256},{"t":3,"w":-0.75,"v":0.263},{"t":4,"w":-0.75,"v":0.256},{"t":5,"w":-0.75,"v":0.263},{"t":6,"w":-0.75,"v":0.256},{"t":7,"w":-0.75,"v":0.263},{"t":8,"w":-0.75,"v":0.256},{"t":9,"w":-0.75,"v":0.263},{"t":10,"w":-0.75,"v":0.256},{"t":11,"w":-0.75,"v":0.263},{"t":12,"w":-0.75,"v":0.256},{"t":13,"w":-0.75,"v":0.263},{"t":14,"w":-0.75,"v":0.256},{"t":15,"w":-0.75,"v":0.26},{"t":16,"w":-0.75,"v":0.265},{"t":17,"w":-0.75,"v":0.257},{"t":18,"w":-0.75,"v":0.265},{"t":19,"w":-0.75,"v":0.257},{"t":20,"w":-0.75,"v":0.265},{"t":21,"w":-0.75,"v":0.257},{"t":22,"w":-0.75,"v":0.265},{"t":23,"w":-0.75,"v":0.257},{"t":24,"w":-0.75,"v":0.265},{"t":25,"w":-0.75,"v":0.257},{"t":26,"w":-0.75,"v":0.265},{"t":27,"w":-0.75,"v":0.257},{"t":28,"w":-0.75,"v":0.265},{"t":29,"w":-0.75,"v":0.258},{"t":30,"w":-0.75,"v":0.261},
{"t":0,"w":-0.85,"v":0.271},{"t":1,"w":-0.85,"v":0.274},{"t":2,"w":-0.85,"v":0.27},{"t":3,"w":-0.85,"v":0.274},{"t":4,"w":-0.85,"v":0.27},{"t":5,"w":-0.85,"v":0.274},{"t":6,"w":-0.85,"v":0.27},{"t":7,"w":-0.85,"v":0.274},{"t":8,"w":-0.85,"v":0.27},{"t":9,"w":-0.85,"v":0.274},{"t":10,"w":-0.85,"v":0.27},{"t":11,"w":-0.85,"v":0.274},{"t":12,"w":-0.85,"v":0.27},{"t":13,"w":-0.85,"v":0.274},{"t":14,"w":-0.85,"v":0.27},{"t":15,"w":-0.85,"v":0.272},{"t":16,"w":-0.85,"v":0.275},{"t":17,"w":-0.85,"v":0.271},{"t":18,"w":-0.85,"v":0.275},{"t":19,"w":-0.85,"v":0.271},{"t":20,"w":-0.85,"v":0.275},{"t":21,"w":-0.85,"v":0.271},{"t":22,"w":-0.85,"v":0.275},{"t":23,"w":-0.85,"v":0.271},{"t":24,"w":-0.85,"v":0.275},{"t":25,"w":-0.85,"v":0.271},{"t":26,"w":-0.85,"v":0.275},{"t":27,"w":-0.85,"v":0.271},{"t":28,"w":-0.85,"v":0.275},{"t":29,"w":-0.85,"v":0.271},{"t":30,"w":-0.85,"v":0.273},
{"t":0,"w":-0.95,"v":0.283},{"t":1,"w":-0.95,"v":0.285},{"t":2,"w":-0.95,"v":0.282},{"t":3,"w":-0.95,"v":0.285},{"t":4,"w":-0.95,"v":0.282},{"t":5,"w":-0.95,"v":0.285},{"t":6,"w":-0.95,"v":0.282},{"t":7,"w":-0.95,"v":0.285},{"t":8,"w":-0.95,"v":0.282},{"t":9,"w":-0.95,"v":0.285},{"t":10,"w":-0.95,"v":0.282},{"t":11,"w":-0.95,"v":0.285},{"t":12,"w":-0.95,"v":0.282},{"t":13,"w":-0.95,"v":0.285},{"t":14,"w":-0.95,"v":0.282},{"t":15,"w":-0.95,"v":0.283},{"t":16,"w":-0.95,"v":0.286},{"t":17,"w":-0.95,"v":0.282},{"t":18,"w":-0.95,"v":0.286},{"t":19,"w":-0.95,"v":0.282},{"t":20,"w":-0.95,"v":0.286},{"t":21,"w":-0.95,"v":0.282},{"t":22,"w":-0.95,"v":0.286},{"t":23,"w":-0.95,"v":0.282},{"t":24,"w":-0.95,"v":0.286},{"t":25,"w":-0.95,"v":0.282},{"t":26,"w":-0.95,"v":0.286},{"t":27,"w":-0.95,"v":0.282},{"t":28,"w":-0.95,"v":0.286},{"t":29,"w":-0.95,"v":0.282},{"t":30,"w":-0.95,"v":0.284}
  ]
},
"columns": 6,
"align": "each",
"bounds": "flush",
"spacing": {"row": 22, "column": 0},
"resolve": {"scale": {"color": "independent"}, "legend": {"color": "independent"}},
"concat": [
  {"width": 253, "height": 187,
   "layer": [
     {"data": {"name": "full_a"}, "mark": {"type": "line", "color": "black", "strokeWidth": 2.2, "interpolate": "monotone"},
      "encoding": {
        "x": {"field": "w", "type": "quantitative", "scale": {"domain": [-7, 7], "nice": false, "zero": false}, "axis": {"orient": "bottom", "values": [-7,-6,-5,-4,-3,-2,-1,0,1,2,3,4,5,6,7], "labels": false, "title": null, "offset": -5}},
        "y": {"field": "A", "type": "quantitative", "scale": {"domain": [0, 0.35], "nice": false, "zero": false}, "axis": {"orient": "left", "values": [0,0.1,0.2,0.3], "format": ".1f", "ticks": false, "title": "A (ω)", "titleAngle": 0, "titleAlign": "right", "titleBaseline": "middle", "titleFontStyle": "italic", "titlePadding": 8}}}},
     {"data": {"name": "occ"}, "mark": {"type": "line", "color": "#ff0000", "strokeWidth": 2, "interpolate": "monotone"},
      "encoding": {
        "x": {"field": "w", "type": "quantitative", "axis": {"orient": "top", "values": [-7,-6,-5,-4,-3,-2,-1,0,1,2,3,4,5,6,7], "labels": false, "title": null, "offset": -5}},
        "y": {"field": "A", "type": "quantitative", "axis": {"orient": "right", "values": [0,0.05,0.1,0.15,0.2,0.25,0.3,0.35], "labels": false, "title": null, "offset": -5}}}},
     {"data": {"values": [{}]}, "mark": {"type": "text", "align": "left", "baseline": "middle", "fontSize": 22},
      "encoding": {
        "x": {"datum": -6.27, "type": "quantitative", "axis": null},
        "y": {"datum": 0.297, "type": "quantitative", "axis": {"orient": "left", "values": [0,0.05,0.1,0.15,0.2,0.25,0.3,0.35], "labels": false, "title": null, "offset": -5}},
        "text": {"value": "(a)"}}}
   ],
   "resolve": {"axis": {"x": "independent", "y": "independent"}}},
  {"width": 65, "height": 1, "view": {"stroke": null}, "data": {"values": []}, "mark": {"type": "point", "opacity": 0}},
  {"width": 285, "height": 188,
   "layer": [
     {"data": {"name": "hc"}, "mark": {"type": "rect", "width": 19.6, "height": 9.9, "clip": true},
      "encoding": {
        "x": {"field": "t", "type": "quantitative", "scale": {"domain": [0, 15], "nice": false, "zero": false}, "axis": {"orient": "bottom", "values": [0,2,4,6,8,10,12,14], "labels": false, "title": null, "offset": -5}},
        "y": {"field": "w", "type": "quantitative", "scale": {"domain": [-1, 1], "nice": false, "zero": false}, "axis": {"orient": "left", "values": [-1,-0.5,0,0.5,1], "format": ".1f", "ticks": false, "title": "ω", "titleFontStyle": "italic", "titlePadding": 8}},
        "color": {"field": "v", "type": "quantitative", "scale": {"domain": [0.143,0.16725,0.1915,0.21575,0.24,0.26425,0.2885], "range": ["#0000ff","#0080ff","#00ffff","#80ff80","#ffff00","#ff8000","#ff0000"], "interpolate": "rgb"}, "legend": null}}},
     {"data": {"values": [{}]}, "mark": {"type": "text", "align": "left", "baseline": "middle", "fontSize": 22},
      "encoding": {
        "x": {"datum": 0.68, "type": "quantitative", "axis": {"orient": "top", "values": [0,2,4,6,8,10,12,14], "labels": false, "title": null, "offset": -5}},
        "y": {"datum": 0.68, "type": "quantitative", "axis": {"orient": "right", "values": [-1,-0.5,0,0.5,1], "labels": false, "title": null, "offset": -5}},
        "text": {"value": "(c)"}}},
     {"data": {"values": [{}]}, "mark": {"type": "text"},
      "encoding": {
        "x": {"datum": 1, "type": "quantitative", "axis": null},
        "y": {"datum": 0, "type": "quantitative", "axis": {"orient": "left", "values": [-1,-0.5,0,0.5,1], "labels": false, "title": null, "offset": -5}},
        "text": {"value": ""}}}
   ],
   "resolve": {"axis": {"x": "independent", "y": "independent"}}},
  {"width": 286, "height": 188,
   "layer": [
     {"data": {"name": "hc"}, "mark": {"type": "rect", "width": 19.6, "height": 9.9, "clip": true},
      "encoding": {
        "x": {"field": "t", "type": "quantitative", "scale": {"domain": [15, 30], "nice": false, "zero": false}, "axis": {"orient": "bottom", "values": [16,18,20,22,24,26,28,30], "labels": false, "title": null, "offset": -5}},
        "y": {"field": "w", "type": "quantitative", "scale": {"domain": [-1, 1], "nice": false, "zero": false}, "axis": {"orient": "left", "values": [-1,-0.5,0,0.5,1], "labels": false, "title": null, "offset": -5}},
        "color": {"field": "v", "type": "quantitative", "scale": {"domain": [0.143,0.16725,0.1915,0.21575,0.24,0.26425,0.2885], "range": ["#0000ff","#0080ff","#00ffff","#80ff80","#ffff00","#ff8000","#ff0000"], "interpolate": "rgb"},
          "legend": {"orient": "right", "offset": 7, "padding": 0, "gradientLength": 188, "gradientThickness": 15, "title": null, "values": [0.16,0.18,0.2,0.22,0.24,0.26,0.28], "format": ".2f"}}}},
     {"data": {"values": [{}]}, "mark": {"type": "text", "align": "center", "baseline": "alphabetic", "fontSize": 29},
      "encoding": {
        "x": {"datum": 14.66, "type": "quantitative", "axis": {"orient": "top", "values": [16,18,20,22,24,26,28,30], "labels": false, "title": null, "offset": -5}},
        "y": {"datum": 0.66, "type": "quantitative", "axis": {"orient": "right", "values": [-1,-0.5,0,0.5,1], "labels": false, "title": null, "offset": -5}},
        "text": {"value": "dynamic phonon"}}},
     {"data": {"values": [{}]}, "mark": {"type": "rule", "color": "white", "strokeWidth": 4, "strokeDash": [8, 5]},
      "encoding": {"x": {"datum": 15.06, "type": "quantitative", "axis": null}}}
   ],
   "resolve": {"axis": {"x": "independent", "y": "independent"}}},
  {"width": 69, "height": 1, "view": {"stroke": null}, "data": {"values": []}, "mark": {"type": "point", "opacity": 0}},
  {"width": 254, "height": 188,
   "layer": [
     {"data": {"name": "full_e"}, "mark": {"type": "line", "color": "black", "strokeWidth": 2.2, "interpolate": "monotone"},
      "encoding": {
        "x": {"field": "w", "type": "quantitative", "scale": {"domain": [-7, 7], "nice": false, "zero": false}, "axis": {"orient": "bottom", "values": [-7,-6,-5,-4,-3,-2,-1,0,1,2,3,4,5,6,7], "labels": false, "title": null, "offset": -5}},
        "y": {"field": "A", "type": "quantitative", "scale": {"domain": [0, 0.35], "nice": false, "zero": false}, "axis": {"orient": "right", "values": [0,0.1,0.2,0.3], "format": ".1f", "ticks": false, "title": "A (ω)", "titleAngle": 0, "titleAlign": "left", "titleBaseline": "middle", "titleFontStyle": "italic", "titlePadding": 8}}}},
     {"data": {"name": "occ2"}, "mark": {"type": "line", "color": "#ff0000", "strokeWidth": 2.2, "interpolate": "monotone"},
      "encoding": {
        "x": {"field": "w", "type": "quantitative", "axis": {"orient": "top", "values": [-7,-6,-5,-4,-3,-2,-1,0,1,2,3,4,5,6,7], "labels": false, "title": null, "offset": -5}},
        "y": {"field": "A", "type": "quantitative", "axis": {"orient": "left", "values": [0,0.05,0.1,0.15,0.2,0.25,0.3,0.35], "labels": false, "title": null, "offset": -5}}}},
     {"data": {"name": "green_e"}, "mark": {"type": "line", "color": "#1e8c1e", "strokeWidth": 2, "strokeDash": [6, 4], "interpolate": "monotone"},
      "encoding": {
        "x": {"field": "w", "type": "quantitative", "axis": null},
        "y": {"field": "A", "type": "quantitative", "axis": {"orient": "right", "values": [0,0.05,0.1,0.15,0.2,0.25,0.3,0.35], "labels": false, "title": null, "offset": -5}}}},
     {"data": {"name": "occ2"}, "mark": {"type": "line", "color": "#3cc8d8", "strokeWidth": 1.3, "strokeDash": [1.5, 2.5], "interpolate": "monotone"},
      "encoding": {"x": {"field": "w", "type": "quantitative", "axis": null}, "y": {"field": "A", "type": "quantitative", "axis": null}}},
     {"data": {"values": [{}]}, "mark": {"type": "text", "align": "left", "baseline": "middle", "fontSize": 23, "fontStyle": "italic"},
      "encoding": {"x": {"datum": 4.74, "type": "quantitative", "axis": null}, "y": {"datum": 0.297, "type": "quantitative", "axis": null}, "text": {"value": "(e)"}}}
   ],
   "resolve": {"axis": {"x": "independent", "y": "independent"}}},
  {"width": 253, "height": 183,
   "layer": [
     {"data": {"name": "full_b"}, "mark": {"type": "line", "color": "black", "strokeWidth": 2.2, "interpolate": "monotone"},
      "encoding": {
        "x": {"field": "w", "type": "quantitative", "scale": {"domain": [-7, 7], "nice": false, "zero": false}, "axis": {"orient": "bottom", "values": [-6,-4,-2,0,2,4,6], "ticks": false, "title": "ω", "titleFontStyle": "italic", "titlePadding": 4}},
        "y": {"field": "A", "type": "quantitative", "scale": {"domain": [0, 0.35], "nice": false, "zero": false}, "axis": {"orient": "left", "values": [0,0.1,0.2,0.3], "format": ".1f", "ticks": false, "title": "A (ω)", "titleAngle": 0, "titleAlign": "right", "titleBaseline": "middle", "titleFontStyle": "italic", "titlePadding": 8}}}},
     {"data": {"name": "occ"}, "mark": {"type": "line", "color": "#ff0000", "strokeWidth": 2, "interpolate": "monotone"},
      "encoding": {
        "x": {"field": "w", "type": "quantitative", "axis": {"orient": "top", "values": [-7,-6,-5,-4,-3,-2,-1,0,1,2,3,4,5,6,7], "labels": false, "title": null, "offset": -5}},
        "y": {"field": "A", "type": "quantitative", "axis": {"orient": "right", "values": [0,0.05,0.1,0.15,0.2,0.25,0.3,0.35], "labels": false, "title": null, "offset": -5}}}},
     {"data": {"values": [{}]}, "mark": {"type": "text", "align": "left", "baseline": "middle", "fontSize": 23, "fontStyle": "italic"},
      "encoding": {
        "x": {"datum": -6.27, "type": "quantitative", "axis": {"orient": "bottom", "values": [-7,-6,-5,-4,-3,-2,-1,0,1,2,3,4,5,6,7], "labels": false, "title": null, "offset": -5}},
        "y": {"datum": 0.3, "type": "quantitative", "axis": {"orient": "left", "values": [0,0.05,0.1,0.15,0.2,0.25,0.3,0.35], "labels": false, "title": null, "offset": -5}},
        "text": {"value": "(b)"}}}
   ],
   "resolve": {"axis": {"x": "independent", "y": "independent"}}},
  {"width": 65, "height": 1, "view": {"stroke": null}, "data": {"values": []}, "mark": {"type": "point", "opacity": 0}},
  {"width": 285, "height": 192,
   "layer": [
     {"data": {"name": "hd"}, "mark": {"type": "rect", "height": 5.3, "clip": true},
      "encoding": {
        "x": {"field": "t0", "type": "quantitative", "scale": {"domain": [0, 15], "nice": false, "zero": false}, "axis": {"orient": "bottom", "values": [0,2,4,6,8,10,12,14], "ticks": false, "title": "t", "titleFontSize": 14, "titlePadding": 14}},
        "x2": {"field": "t1"},
        "y": {"field": "w", "type": "quantitative", "scale": {"domain": [-1, 1], "nice": false, "zero": false}, "axis": {"orient": "left", "values": [-1,-0.5,0,0.5,1], "format": ".1f", "ticks": false, "title": "ω", "titleFontStyle": "italic", "titlePadding": 8}},
        "color": {"field": "v", "type": "quantitative", "scale": {"domain": [0.1,0.1305,0.161,0.1915,0.222,0.2525,0.283], "range": ["#0000ff","#0080ff","#00ffff","#80ff80","#ffff00","#ff8000","#ff0000"], "interpolate": "rgb"}, "legend": null}}},
     {"data": {"values": [{}]}, "mark": {"type": "text", "align": "left", "baseline": "middle", "fontSize": 22},
      "encoding": {
        "x": {"datum": 0.68, "type": "quantitative", "axis": {"orient": "top", "values": [0,2,4,6,8,10,12,14], "labels": false, "title": null, "offset": -5}},
        "y": {"datum": 0.72, "type": "quantitative", "axis": {"orient": "right", "values": [-1,-0.5,0,0.5,1], "labels": false, "title": null, "offset": -5}},
        "text": {"value": "(d)"}}},
     {"data": {"values": [{}]}, "mark": {"type": "text"},
      "encoding": {
        "x": {"datum": 1, "type": "quantitative", "axis": {"orient": "bottom", "values": [0,2,4,6,8,10,12,14], "labels": false, "title": null, "offset": -5}},
        "y": {"datum": 0, "type": "quantitative", "axis": {"orient": "left", "values": [-1,-0.5,0,0.5,1], "labels": false, "title": null, "offset": -5}},
        "text": {"value": ""}}}
   ],
   "resolve": {"axis": {"x": "independent", "y": "independent"}}},
  {"width": 286, "height": 192,
   "layer": [
     {"data": {"name": "hd"}, "mark": {"type": "rect", "height": 5.3, "clip": true},
      "encoding": {
        "x": {"field": "t0", "type": "quantitative", "scale": {"domain": [15, 30], "nice": false, "zero": false}, "axis": {"orient": "bottom", "values": [16,18,20,22,24,26,28,30], "ticks": false, "title": "t", "titleFontSize": 14, "titlePadding": 14}},
        "x2": {"field": "t1"},
        "y": {"field": "w", "type": "quantitative", "scale": {"domain": [-1, 1], "nice": false, "zero": false}, "axis": {"orient": "left", "values": [-1,-0.5,0,0.5,1], "labels": false, "title": null, "offset": -5}},
        "color": {"field": "v", "type": "quantitative", "scale": {"domain": [0.1,0.1305,0.161,0.1915,0.222,0.2525,0.283], "range": ["#0000ff","#0080ff","#00ffff","#80ff80","#ffff00","#ff8000","#ff0000"], "interpolate": "rgb"},
          "legend": {"orient": "right", "offset": 7, "padding": 0, "gradientLength": 192, "gradientThickness": 15, "title": null, "values": [0.12,0.14,0.16,0.18,0.2,0.22,0.24,0.26,0.28], "format": ".2f"}}}},
     {"data": {"values": [{}]}, "mark": {"type": "text", "align": "left", "baseline": "alphabetic", "fontSize": 34, "fontStyle": "italic"},
      "encoding": {
        "x": {"datum": 10.25, "type": "quantitative", "axis": {"orient": "top", "values": [16,18,20,22,24,26,28,30], "labels": false, "title": null, "offset": -5}},
        "y": {"datum": 0.583, "type": "quantitative", "axis": {"orient": "right", "values": [-1,-0.5,0,0.5,1], "labels": false, "title": null, "offset": -5}},
        "text": {"value": "U(t) = U"}}},
     {"data": {"values": [{}]}, "mark": {"type": "text", "align": "left", "baseline": "alphabetic", "fontSize": 26, "fontStyle": "italic"},
      "encoding": {
        "x": {"datum": 16.55, "type": "quantitative", "axis": {"orient": "bottom", "values": [16,18,20,22,24,26,28,30], "labels": false, "title": null, "offset": -5}},
        "y": {"datum": 0.514, "type": "quantitative", "axis": null},
        "text": {"value": "⟨X²⟩"}}},
     {"data": {"values": [{}]}, "mark": {"type": "text", "align": "left", "baseline": "alphabetic", "fontSize": 34, "fontStyle": "italic"},
      "encoding": {"x": {"datum": 19.05, "type": "quantitative", "axis": null}, "y": {"datum": 0.583, "type": "quantitative", "axis": null}, "text": {"value": "(t)"}}},
     {"data": {"values": [{}]}, "mark": {"type": "rule", "color": "white", "strokeWidth": 4, "strokeDash": [8, 5]},
      "encoding": {"x": {"datum": 15.06, "type": "quantitative", "axis": null}}}
   ],
   "resolve": {"axis": {"x": "independent", "y": "independent"}}},
  {"width": 69, "height": 1, "view": {"stroke": null}, "data": {"values": []}, "mark": {"type": "point", "opacity": 0}},
  {"width": 254, "height": 190,
   "layer": [
     {"data": {"name": "full_f"}, "mark": {"type": "line", "color": "black", "strokeWidth": 2.2, "interpolate": "monotone"},
      "encoding": {
        "x": {"field": "w", "type": "quantitative", "scale": {"domain": [-7, 7], "nice": false, "zero": false}, "axis": {"orient": "bottom", "values": [-6,-4,-2,0,2,4,6], "ticks": false, "title": "ω", "titleFontStyle": "italic", "titlePadding": 4}},
        "y": {"field": "A", "type": "quantitative", "scale": {"domain": [0, 0.35], "nice": false, "zero": false}, "axis": {"orient": "right", "values": [0,0.1,0.2,0.3], "format": ".1f", "ticks": false, "title": "A (ω)", "titleAngle": 0, "titleAlign": "left", "titleBaseline": "middle", "titleFontStyle": "italic", "titlePadding": 8}}}},
     {"data": {"name": "occ2"}, "mark": {"type": "line", "color": "#ff0000", "strokeWidth": 2.2, "interpolate": "monotone"},
      "encoding": {
        "x": {"field": "w", "type": "quantitative", "axis": {"orient": "top", "values": [-7,-6,-5,-4,-3,-2,-1,0,1,2,3,4,5,6,7], "labels": false, "title": null, "offset": -5}},
        "y": {"field": "A", "type": "quantitative", "axis": {"orient": "left", "values": [0,0.05,0.1,0.15,0.2,0.25,0.3,0.35], "labels": false, "title": null, "offset": -5}}}},
     {"data": {"name": "full_f"}, "mark": {"type": "line", "color": "#1e8c1e", "strokeWidth": 2, "strokeDash": [6, 4], "interpolate": "monotone"},
      "encoding": {
        "x": {"field": "w", "type": "quantitative", "axis": {"orient": "bottom", "values": [-7,-6,-5,-4,-3,-2,-1,0,1,2,3,4,5,6,7], "labels": false, "title": null, "offset": -5}},
        "y": {"field": "A", "type": "quantitative", "axis": {"orient": "right", "values": [0,0.05,0.1,0.15,0.2,0.25,0.3,0.35], "labels": false, "title": null, "offset": -5}}}},
     {"data": {"name": "occ2"}, "mark": {"type": "line", "color": "#3cc8d8", "strokeWidth": 1.3, "strokeDash": [1.5, 2.5], "interpolate": "monotone"},
      "encoding": {"x": {"field": "w", "type": "quantitative", "axis": null}, "y": {"field": "A", "type": "quantitative", "axis": null}}},
     {"data": {"values": [{}]}, "mark": {"type": "text", "align": "left", "baseline": "middle", "fontSize": 22},
      "encoding": {"x": {"datum": 4.85, "type": "quantitative", "axis": null}, "y": {"datum": 0.297, "type": "quantitative", "axis": null}, "text": {"value": "(f)"}}}
   ],
   "resolve": {"axis": {"x": "independent", "y": "independent"}}}
]
}
